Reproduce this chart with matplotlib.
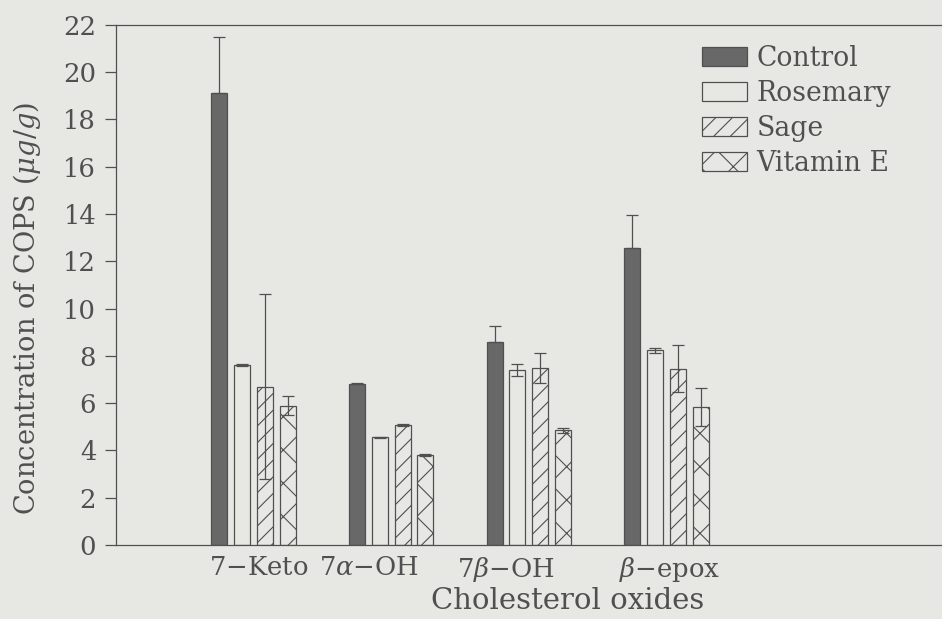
import numpy as np
import matplotlib as mpl
import matplotlib.pyplot as plt

# Data
oxides = ["7$-$Keto", "7$\\alpha$$-$OH", "7$\\beta$$-$OH", "$\\beta$$-$epox"]
treatments = ["Control", "Rosemary", "Sage", "Vitamin E"]

control = [19.1, 6.8, 8.6, 12.55]
control_err = [2.4, 0.06, 0.65, 1.4]
rosemary = [7.6, 4.55, 7.4, 8.23]
rosemary_err = [0.04, 0.02, 0.24, 0.1]
sage = [6.7, 5.08, 7.5, 7.45]
sage_err = [3.9, 0.03, 0.63, 1.0]
vitamin_e = [5.9, 3.82, 4.85, 5.82]
vitamin_e_err = [0.4, 0.04, 0.1, 0.8]

values = [control, rosemary, sage, vitamin_e]
errors = [control_err, rosemary_err, sage_err, vitamin_e_err]

# Styling
bg = "#e7e7e4"
ink = "#505050"
dark = "#686868"
fills = [dark, bg, bg, bg]
hatches = [None, None, "////", "xx"]

mpl.rcParams["font.family"] = ["DejaVu Serif"]
mpl.rcParams["mathtext.fontset"] = "dejavuserif"
mpl.rcParams["hatch.linewidth"] = 0.4
mpl.rcParams["hatch.color"] = ink
mpl.rcParams["text.color"] = ink
fs = 9.3

fig = plt.figure(figsize=(4.71, 3.095), dpi=200, facecolor=bg)
ax = fig.add_axes([0.1228, 0.1195, 0.8772, 0.8405], facecolor=bg)

groups = np.arange(1, len(oxides) + 1)
step = 0.166
width = 0.116
offsets = (np.arange(len(treatments)) - 1.5) * step

for k in range(len(treatments)):
    err = np.array(errors[k])
    if k == 0:
        # lower half hidden inside the dark bar
        err = np.vstack([np.zeros_like(err), err])
    ax.bar(groups + offsets[k], values[k], width, yerr=err,
           color=fills[k], edgecolor=ink, linewidth=0.45, hatch=hatches[k],
           label=treatments[k],
           error_kw=dict(ecolor=ink, elinewidth=0.45, capsize=2.3, capthick=0.45))

ax.set_xlim(0, 6)
ax.set_ylim(0, 22)
ax.set_yticks(np.arange(0, 23, 2))

# label positions sit slightly off the group centres in the original
label_pos = [1.04, 1.84, 2.83, 4.02]
ax.set_xticks(label_pos)
ax.set_xticklabels(oxides)
ax.tick_params(axis="x", length=0, pad=3.5, labelsize=fs, colors=ink)
ax.tick_params(axis="y", direction="out", length=4, width=0.45, pad=3,
               labelsize=fs, colors=ink)

for side in ["left", "top", "bottom"]:
    ax.spines[side].set_color(ink)
    ax.spines[side].set_linewidth(0.45)
ax.spines["right"].set_visible(False)

ax.set_xlabel("Cholesterol oxides", fontsize=fs + 1.2, color=ink)
ax.xaxis.set_label_coords(0.547, -0.08)
ax.set_ylabel("Concentration of COPS ($\\mu g/g$)", fontsize=fs + 0.5, color=ink)
ax.yaxis.set_label_coords(-0.088, 0.454)

leg = ax.legend(loc="upper left", bbox_to_anchor=(701.7 / 942, 1 - 45 / 619),
                bbox_transform=fig.transFigure, frameon=False, fontsize=fs + 0.3,
                handlelength=1.7, handleheight=0.75, handletextpad=0.35,
                labelspacing=0.3, borderpad=0, borderaxespad=0)
for t in leg.get_texts():
    t.set_color(ink)

fig.savefig("out.png", dpi=200, facecolor=bg)
